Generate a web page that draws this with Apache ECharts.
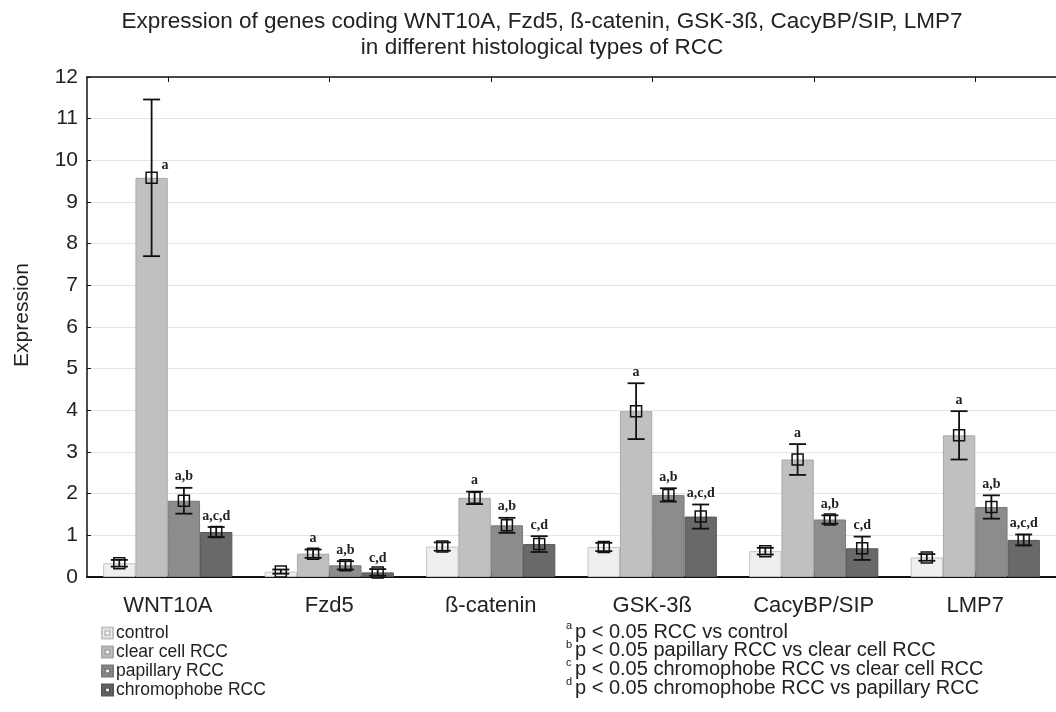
<!DOCTYPE html>
<html>
<head>
<meta charset="utf-8">
<script src="https://cdn.jsdelivr.net/npm/echarts@6/dist/echarts.min.js"></script>
<style>
html,body{margin:0;padding:0;background:#fff;}
#chart{width:1056px;height:712px;}
</style>
</head>
<body>
<div id="chart"></div>
<script>
// ---- data ----
const categories = ['WNT10A', 'Fzd5', 'ß-catenin', 'GSK-3ß', 'CacyBP/SIP', 'LMP7'];
const seriesNames = ['control', 'clear cell RCC', 'papillary RCC', 'chromophobe RCC'];
const controlMean = [0.33, 0.13, 0.73, 0.72, 0.62, 0.47];
const clearMean = [9.58, 0.56, 1.90, 3.98, 2.82, 3.40];
const papillaryMean = [1.83, 0.28, 1.24, 1.97, 1.38, 1.68];
const chromophobeMean = [1.08, 0.11, 0.79, 1.45, 0.69, 0.89];
const controlErr = [0.08, 0.05, 0.10, 0.10, 0.08, 0.08];
const clearErr = [1.88, 0.10, 0.15, 0.67, 0.37, 0.58];
const papillaryErr = [0.31, 0.10, 0.18, 0.16, 0.10, 0.28];
const chromophobeErr = [0.12, 0.08, 0.19, 0.29, 0.28, 0.13];
const controlSig = ['', '', '', '', '', ''];
const clearSig = ['a', 'a', 'a', 'a', 'a', 'a'];
const papillarySig = ['a,b', 'a,b', 'a,b', 'a,b', 'a,b', 'a,b'];
const chromophobeSig = ['a,c,d', 'c,d', 'c,d', 'a,c,d', 'c,d', 'a,c,d'];
const yTicks = [0, 12, 1];
const titleLines = ['Expression of genes coding WNT10A, Fzd5, ß-catenin, GSK-3ß, CacyBP/SIP, LMP7', 'in different histological types of RCC'];
const footSup = ['a', 'b', 'c', 'd'];
const footText = ['p < 0.05 RCC vs control', 'p < 0.05 papillary RCC vs clear cell RCC', 'p < 0.05 chromophobe RCC vs clear cell RCC', 'p < 0.05 chromophobe RCC vs papillary RCC'];

// ---- styling ----
const means = [controlMean, clearMean, papillaryMean, chromophobeMean];
const errs = [controlErr, clearErr, papillaryErr, chromophobeErr];
const sigs = [controlSig, clearSig, papillarySig, chromophobeSig];
const fills = ['#efefef', '#c0c0c0', '#8c8c8c', '#696969'];
const borders = ['#c4c4c4', '#a9a9a9', '#7a7a7a', '#585858'];
const GAP = 0.2;
const FONT = 'Liberation Sans, Arial, sans-serif';
const SERIF = 'Liberation Serif, Times New Roman, serif';

const chart = echarts.init(document.getElementById('chart'), null, {renderer: 'canvas'});

const series = [];
seriesNames.forEach((name, k) => {
  series.push({
    name: name,
    type: 'bar',
    data: means[k],
    barGap: '0%',
    barCategoryGap: (GAP * 100) + '%',
    itemStyle: {color: fills[k], borderColor: borders[k], borderWidth: 1},
    z: 2
  });
});
seriesNames.forEach((name, k) => {
  series.push({
    name: name + ' err',
    type: 'custom',
    z: 5,
    data: categories.map((c, i) => [i, means[k][i], errs[k][i]]),
    renderItem: function (params, api) {
      const idx = api.value(0), mean = api.value(1), err = api.value(2);
      const base = api.coord([idx, mean]);
      const bandW = api.size([1, 0])[0];
      const barW = bandW * (1 - GAP) / 4;
      const cx = base[0] - 2 * barW + (k + 0.5) * barW;
      const yM = base[1];
      const yT = api.coord([idx, mean + err])[1];
      const yB = api.coord([idx, mean - err])[1];
      const cap = 8.5, sq = 5.5;
      const ls = {stroke: '#111', lineWidth: 1.8, fill: null};
      const children = [
        {type: 'line', shape: {x1: cx, y1: yT, x2: cx, y2: yB}, style: ls},
        {type: 'line', shape: {x1: cx - cap, y1: yT, x2: cx + cap, y2: yT}, style: ls},
        {type: 'line', shape: {x1: cx - cap, y1: yB, x2: cx + cap, y2: yB}, style: ls},
        {type: 'rect', shape: {x: cx - sq, y: yM - sq, width: 2 * sq, height: 2 * sq}, style: {stroke: '#111', lineWidth: 1.5, fill: 'rgba(0,0,0,0)'}}
      ];
      const lab = sigs[k][params.dataIndex];
      if (lab) {
        const beside = (yB - yT) > 100;
        children.push({
          type: 'text',
          style: {
            text: lab,
            x: beside ? cx + 10 : cx,
            y: beside ? yM - 12 : yT - 4,
            textAlign: beside ? 'left' : 'center',
            textVerticalAlign: beside ? 'middle' : 'bottom',
            font: 'bold 14px ' + SERIF,
            fill: '#222'
          }
        });
      }
      return {type: 'group', children: children};
    }
  });
});

const graphics = [];
titleLines.forEach((t, i) => {
  graphics.push({type: 'text', x: 542, y: 22 + i * 26,
    style: {text: t, font: '22.5px ' + FONT, fill: '#222', textAlign: 'center', textVerticalAlign: 'middle'}});
});
footText.forEach((t, i) => {
  const y = 632 + i * 18.7;
  graphics.push({type: 'text', x: 566, y: y - 6,
    style: {text: footSup[i], font: '11px ' + FONT, fill: '#222', textAlign: 'left', textVerticalAlign: 'middle'}});
  graphics.push({type: 'text', x: 575, y: y,
    style: {text: t, font: '20px ' + FONT, fill: '#222', textAlign: 'left', textVerticalAlign: 'middle'}});
});

const option = {
  animation: false,
  backgroundColor: '#fff',
  grid: {left: 87, right: -8, top: 77, bottom: 135, containLabel: false},
  legend: {
    data: seriesNames,
    orient: 'vertical',
    left: 96, top: 619, height: 92,
    itemWidth: 11, itemHeight: 13, itemGap: 1,
    icon: 'path://M0,0H14V14H0Z M4,4V10H10V4Z',
    textStyle: {fontFamily: FONT, fontSize: 17.5, color: '#222', lineHeight: 17.5, padding: [0, 0, 0, -2]}
  },
  xAxis: [{
    type: 'category',
    data: categories,
    axisLine: {lineStyle: {color: '#111', width: 2}},
    axisTick: {show: true, alignWithLabel: true, inside: true, length: 5, lineStyle: {color: '#111'}},
    axisLabel: {fontFamily: FONT, fontSize: 22, color: '#222', margin: 18},
    splitLine: {show: false}
  }, {
    type: 'category',
    position: 'top',
    data: categories,
    axisLine: {lineStyle: {color: '#111', width: 1.5}},
    axisTick: {show: true, alignWithLabel: true, inside: true, length: 5, lineStyle: {color: '#111'}},
    axisLabel: {show: false},
    splitLine: {show: false}
  }],
  yAxis: {
    type: 'value',
    min: yTicks[0], max: yTicks[1], interval: yTicks[2],
    name: 'Expression',
    nameLocation: 'middle',
    nameGap: 54,
    nameTextStyle: {fontFamily: FONT, fontSize: 21, color: '#222', padding: [0, 0, 0, 24]},
    axisLine: {show: true, lineStyle: {color: '#111', width: 1.5}},
    axisTick: {show: true, inside: true, length: 4, lineStyle: {color: '#111'}},
    axisLabel: {fontFamily: FONT, fontSize: 21, color: '#222', margin: 9},
    splitLine: {show: true, lineStyle: {color: '#e4e4e4', width: 1.2}}
  },
  graphic: graphics,
  series: series
};
chart.setOption(option);
</script>
</body>
</html>
